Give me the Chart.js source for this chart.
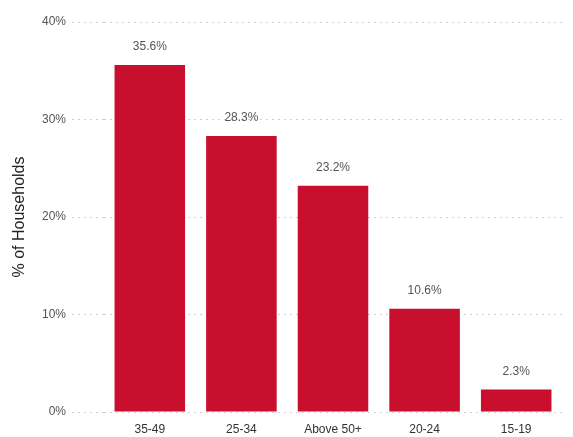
<!DOCTYPE html>
<html>
<head>
<meta charset="utf-8">
<title>Households by age group</title>
<script src="https://cdn.jsdelivr.net/npm/chart.js@4.4.1/dist/chart.umd.min.js"></script>
<style>
  html, body { margin: 0; padding: 0; background: #fff; }
  #wrap { width: 573px; height: 437px; position: relative; }
</style>
</head>
<body>
<div id="wrap"><canvas id="myChart"></canvas></div>
<script>
const ageGroups = ["35-49", "25-34", "Above 50+", "20-24", "15-19"];
const shareOfHouseholds = [35.6, 28.3, 23.2, 10.6, 2.3];
const yTicks = [0, 10, 20, 30, 40];

// prints the value over each bar
const valueLabels = {
  id: "valueLabels",
  afterDatasetsDraw(chart) {
    const ctx = chart.ctx;
    const meta = chart.getDatasetMeta(0);
    ctx.save();
    ctx.font = "12px 'Liberation Sans', Arial, sans-serif";
    ctx.fillStyle = "#555";
    ctx.textAlign = "center";
    ctx.textBaseline = "bottom";
    meta.data.forEach((bar, i) => {
      ctx.fillText(shareOfHouseholds[i].toFixed(1) + "%", bar.x, bar.y - 12);
    });
    ctx.restore();
  }
};

const ResultChart = document.getElementById("myChart").getContext("2d");
window.ResultChart = new Chart(ResultChart, {
  type: "bar",
  data: {
    labels: ageGroups,
    datasets: [{
      data: shareOfHouseholds,
      backgroundColor: "#c8102e",
      barPercentage: 0.77,
      categoryPercentage: 1.0,
    }],
  },
  options: {
    responsive: true,
    maintainAspectRatio: false,
    animation: false,
    layout: { padding: { top: 22, right: 11, bottom: 0, left: 0 } },
    plugins: {
      legend: { display: false },
      tooltip: { enabled: false },
    },
    scales: {
      x: {
        grid: { display: false },
        border: { display: false },
        afterFit: (scale) => {
          scale.height = 25;
        },
        ticks: {
          color: "#333",
          padding: 2,
          font: { family: "'Liberation Sans', Arial, sans-serif", size: 12 },
        },
      },
      y: {
        min: 0,
        max: 40,
        afterBuildTicks: (scale) => {
          scale.ticks = yTicks.map((v) => ({ value: v }));
        },
        afterFit: (scale) => {
          scale.width = 104;
        },
        // dotted horizontal grid
        border: { display: false, dash: [2, 4] },
        grid: {
          color: "#d0d0d0",
          tickColor: "#d0d0d0",
          tickLength: 32,
          lineWidth: 1,
          tickBorderDash: [2, 4],
        },
        ticks: {
          color: "#555",
          padding: 6,
          font: { family: "'Liberation Sans', Arial, sans-serif", size: 12 },
          callback: (v) => v + "%",
        },
        title: {
          display: true,
          text: "% of Households",
          color: "#222",
          padding: { top: 10, bottom: 0 },
          font: { family: "'Liberation Sans', Arial, sans-serif", size: 16 },
        },
      },
    },
  },
  plugins: [valueLabels],
});
</script>
</body>
</html>
